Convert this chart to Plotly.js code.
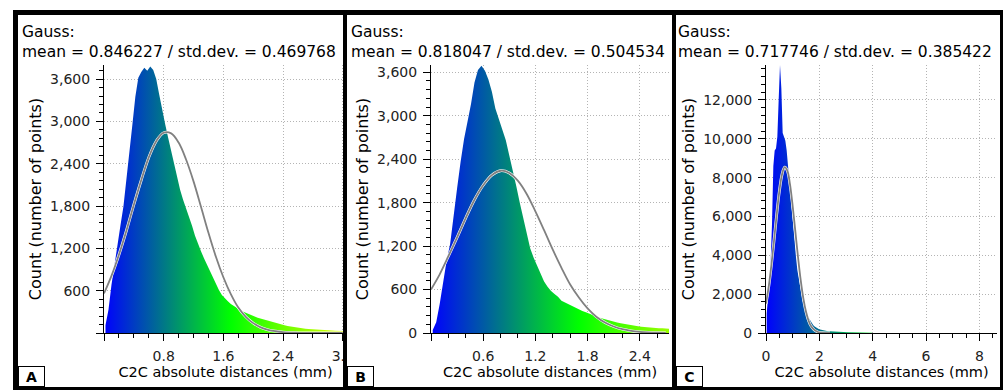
<!DOCTYPE html>
<html><head><meta charset="utf-8">
<script src="https://cdn.plot.ly/plotly-3.0.1.min.js"></script>
<style>
html,body{margin:0;padding:0;background:#fff;width:1006px;height:390px;overflow:hidden;}
#frame{position:absolute;left:13px;top:10px;width:990px;height:380px;background:#000;}
.panel{position:absolute;top:15px;height:372px;background:#fff;overflow:hidden;}
#pA{left:18px;width:325px;}
#pB{left:347px;width:325px;}
#pC{left:676px;width:324px;}
.plot{position:absolute;left:0;top:0;}
</style></head>
<body>
<div id="frame"></div>
<div class="panel" id="pA"><div class="plot" id="gA"></div></div>
<div class="panel" id="pB"><div class="plot" id="gB"></div></div>
<div class="panel" id="pC"><div class="plot" id="gC"></div></div>
<script>
// ---------- data ----------
const panelLetters = ['A', 'B', 'C'];
const gaussMean = ['0.846227', '0.818047', '0.717746'];
const gaussStd = ['0.469768', '0.504534', '0.385422'];
const xTitle = 'C2C absolute distances (mm)';
const yTitle = 'Count (number of points)';

// histogram A: first bin centre 0.02, bin width 0.04
const histA_x0 = 0.02, histA_dx = 0.04;
const histA = [110, 330, 680, 980, 1260, 1520, 1790, 2150, 2550, 2950, 3350, 3620,
  3700, 3760, 3720, 3780, 3730, 3600, 3380, 3150, 2960, 2770, 2580, 2400, 2210,
  2030, 1890, 1770, 1660, 1520, 1380, 1260, 1160, 1060, 970, 880, 780, 680, 610,
  540, 490, 450, 410, 380, 350, 330, 305, 285, 265, 250, 235, 218, 205, 190, 178,
  165, 152, 140, 128, 118, 110, 100, 92, 85, 78, 72, 66, 60, 56, 52, 48, 45, 42,
  40, 38, 36, 34, 32, 30, 29, 28];
// histogram B
const histB_x0 = 0.02, histB_dx = 0.04;
const histB = [40, 150, 400, 700, 1000, 1230, 1640, 2000, 2360, 2680, 2920, 3160,
  3460, 3630, 3690, 3620, 3500, 3330, 3100, 2950, 2800, 2660, 2450, 2250, 2030,
  1800, 1580, 1360, 1170, 1040, 930, 810, 710, 640, 580, 540, 500, 445, 420, 395,
  370, 345, 325, 305, 285, 265, 245, 228, 212, 198, 183, 168, 156, 145, 135, 125,
  116, 108, 100, 94, 88, 82, 78, 74, 70, 67, 64, 62, 60];
// histogram C: first bin centre 0.025, bin width 0.05
const histC_x0 = 0.025, histC_dx = 0.05;
const histC = [1000, 1700, 2600, 3700, 5600, 8600, 9400, 9500, 10100, 12000, 13800,
  12600, 10300, 10100, 9900, 9400, 8600, 7700, 6700, 5900, 5200, 4500, 3900, 3250,
  2800, 2350, 1950, 1650, 1400, 1200, 1020, 860, 720, 590, 480, 400, 330, 280, 240,
  200, 180, 160, 140, 125, 115, 105, 95, 88, 82, 78, 72, 68, 64, 60, 56, 53, 50, 47,
  44, 42, 40, 38, 36, 34, 32, 30, 28, 27, 26, 25, 24, 23, 22, 21, 20, 19, 18, 17, 16, 15];

const curve_dx = 0.1;
const curveA = [560, 810, 1110, 1450, 1820, 2170, 2490, 2720, 2840, 2830, 2700, 2460,
  2150, 1790, 1420, 1080, 790, 550, 360, 230, 140, 80, 45, 25, 12, 6, 3, 1, 0, 0, 0, 0, 0];
const curveB = [600, 810, 1060, 1320, 1590, 1840, 2040, 2180, 2240, 2210, 2100, 1920,
  1680, 1420, 1150, 900, 670, 490, 340, 225, 145, 90, 53, 30, 16, 8, 4, 2];
const curveC = [1510, 2370, 3470, 4750, 6090, 7290, 8160, 8540, 8360, 7650, 6540, 5230,
  3910, 2730, 1780, 1090, 620, 330, 170, 80, 34, 15, 6, 2, 0];

// ticks
const xTicksA = [0, 0.8, 1.6, 2.4, 3.2], xLabelsA = ['', '0.8', '1.6', '2.4', '3.2'];
const yTicksA = [0, 600, 1200, 1800, 2400, 3000, 3600], yLabelsA = ['', '600', '1,200', '1,800', '2,400', '3,000', '3,600'];
const xTicksB = [0, 0.6, 1.2, 1.8, 2.4], xLabelsB = ['', '0.6', '1.2', '1.8', '2.4'];
const yTicksB = [0, 600, 1200, 1800, 2400, 3000, 3600], yLabelsB = ['0', '600', '1,200', '1,800', '2,400', '3,000', '3,600'];
const xTicksC = [0, 2, 4, 6, 8], xLabelsC = ['0', '2', '4', '6', '8'];
const yTicksC = [0, 2000, 4000, 6000, 8000, 10000, 12000], yLabelsC = ['0', '2,000', '4,000', '6,000', '8,000', '10,000', '12,000'];

// ---------- drawing ----------
const FONT = 'DejaVu Sans';
const H = 372, T = 50, B = 54;
const scale = [[0, '#0000ff'], [0.5, '#00ff00'], [1, '#ffff00']];

function panel(div, o) {
  const plotW = o.W - o.l - o.r, plotH = H - T - B;
  const traces = [
    { type: 'scatter', mode: 'lines', x0: o.hx0, dx: o.hdx, y: o.hist,
      line: { width: 0, shape: 'linear' }, fill: 'tozeroy',
      fillgradient: { type: 'horizontal', colorscale: scale, start: 0, stop: o.gstop },
      hoverinfo: 'skip', showlegend: false },
    { type: 'scatter', mode: 'lines', x0: 0, dx: curve_dx, y: o.curve,
      line: { color: '#ffffff', width: 2.8, shape: 'spline' }, hoverinfo: 'skip', showlegend: false },
    { type: 'scatter', mode: 'lines', x0: 0, dx: curve_dx, y: o.curve,
      line: { color: '#808080', width: 1.8, shape: 'spline' }, hoverinfo: 'skip', showlegend: false }
  ];
  const axBase = {
    ticks: 'outside', ticklen: 7, tickwidth: 1, tickcolor: '#000',
    showline: true, linecolor: '#000', linewidth: 1,
    showgrid: true, gridcolor: '#b4b4b4', griddash: '1px,2px', gridwidth: 1,
    zeroline: false, tickmode: 'array', fixedrange: true,
    tickfont: { family: FONT, size: 14, color: '#222' }
  };
  const layout = {
    width: o.W, height: H, margin: { l: o.l, r: o.r, t: T, b: B, pad: 0 },
    paper_bgcolor: '#fff', plot_bgcolor: '#fff', showlegend: false,
    font: { family: FONT, color: '#000' },
    title: { text: 'Gauss:<br>mean = ' + gaussMean[o.i] + ' / std.dev. = ' + gaussStd[o.i],
      xref: 'container', x: o.tx / o.W, xanchor: 'left',
      yref: 'container', y: 1 - 22 / H, yanchor: 'top',
      font: { family: FONT, size: 15.5, color: '#000' } },
    xaxis: Object.assign({}, axBase, {
      range: [0, o.xmax], tickvals: o.xt, ticktext: o.xl, ticklabeloverflow: 'allow', ticklabelstandoff: 3,
      minor: { ticks: 'outside', tickmode: 'linear', tick0: 0, dtick: o.xminor, ticklen: 4, tickcolor: '#000', showgrid: false },
      title: { text: xTitle, font: { family: FONT, size: 14.5, color: '#000' }, standoff: 3 }
    }),
    yaxis: Object.assign({}, axBase, {
      range: [0, o.ymax], tickvals: o.yt, ticktext: o.yl, ticklabelstandoff: 3,
      minor: { ticks: 'outside', tickmode: 'linear', tick0: 0, dtick: o.yminor, ticklen: 4, tickcolor: '#000', showgrid: false },
      title: { text: yTitle, font: { family: FONT, size: 16, color: '#000' }, standoff: 4 }
    }),
    annotations: [{
      text: '<b>' + panelLetters[o.i] + '</b>', showarrow: false,
      xref: 'paper', x: -o.l / plotW, xanchor: 'left',
      yref: 'paper', y: -B / plotH, yanchor: 'bottom',
      width: 22, height: 16, borderpad: 1.5, borderwidth: 1, bordercolor: '#000', bgcolor: '#fff',
      font: { family: FONT, size: 14, color: '#000' }
    }]
  };
  Plotly.newPlot(div, traces, layout, { staticPlot: true, displayModeBar: false });
}

panel('gA', { i: 0, W: 340, l: 86, r: 11, xmax: 3.257, ymax: 3800, hist: histA, hx0: histA_x0, hdx: histA_dx,
  curve: curveA, gstop: 3.4, xt: xTicksA, xl: xLabelsA, yt: yTicksA, yl: yLabelsA, xminor: 0.2, yminor: 120, tx: 4 });
panel('gB', { i: 1, W: 325, l: 84, r: 3, xmax: 2.736, ymax: 3700, hist: histB, hx0: histB_x0, hdx: histB_dx,
  curve: curveB, gstop: 3.4, xt: xTicksB, xl: xLabelsB, yt: yTicksB, yl: yLabelsB, xminor: 0.2, yminor: 120, tx: 4 });
panel('gC', { i: 2, W: 324, l: 90, r: 3, xmax: 8.66, ymax: 13800, hist: histC, hx0: histC_x0, hdx: histC_dx,
  curve: curveC, gstop: 9, xt: xTicksC, xl: xLabelsC, yt: yTicksC, yl: yLabelsC, xminor: 0.5, yminor: 400, tx: 2 });
</script>
</body></html>
